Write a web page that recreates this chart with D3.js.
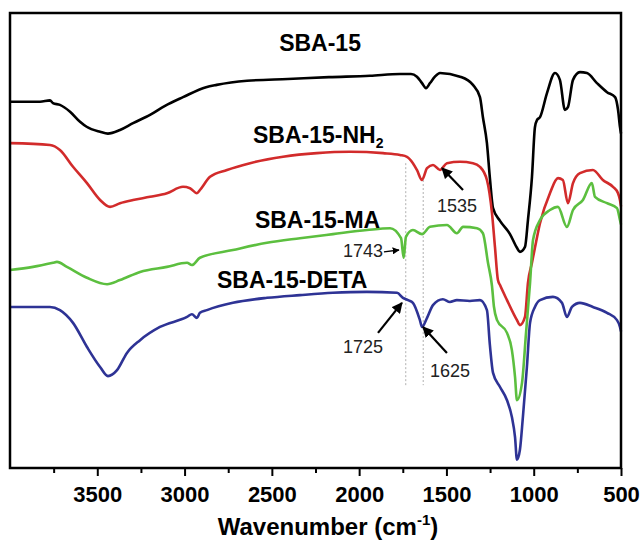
<!DOCTYPE html>
<html>
<head>
<meta charset="utf-8">
<script src="https://cdn.jsdelivr.net/npm/d3@7"></script>
<style>
  body { margin: 0; background: #fff; }
  svg { display: block; font-family: "Liberation Sans", Arial, sans-serif; }
</style>
</head>
<body>
<svg width="643" height="541"></svg>
<script>
// [wavenumber cm-1, transmittance a.u.]
const sba15 = [[4000,80.5],[3828,80.5],[3771,80.8],[3754,80.2],[3714,79.8],[3656,78.3],[3599,76.1],[3561,75.0],[3484,73.9],[3439,73.5],[3370,74.3],[3295,75.8],[3198,77.6],[3112,79.6],[3009,81.5],[2877,83.7],[2816,84.2],[2642,85.1],[2408,85.5],[2173,85.9],[1938,86.2],[1766,86.6],[1703,86.6],[1669,86.0],[1640,84.6],[1617,83.5],[1594,84.6],[1566,86.0],[1537,86.8],[1422,86.0],[1348,84.2],[1308,81.5],[1291,77.1],[1268,71.4],[1251,63.7],[1233,57.1],[1193,54.3],[1136,51.4],[1096,48.4],[1079,47.5],[1050,48.6],[1033,54.5],[1010,64.0],[993,74.9],[981,76.5],[964,77.1],[924,82.4],[878,86.8],[850,85.3],[821,78.7],[804,79.3],[775,85.3],[735,87.0],[695,86.8],[638,84.6],[580,82.6],[534,81.5],[517,78.7],[506,75.0],[500,73.5]];

const sba15NH2 = [[4000,71.4],[3771,71.0],[3714,69.9],[3639,66.2],[3559,62.6],[3484,58.9],[3427,57.4],[3370,58.2],[3295,58.9],[3198,59.6],[3101,60.4],[3009,61.8],[2969,61.5],[2929,60.4],[2912,61.1],[2854,64.0],[2757,65.5],[2625,67.0],[2436,68.4],[2242,69.2],[2052,69.5],[1863,69.2],[1766,68.8],[1726,68.4],[1692,67.0],[1669,65.5],[1640,63.3],[1611,65.9],[1577,66.6],[1537,65.5],[1497,67.0],[1422,67.3],[1348,67.0],[1308,66.2],[1268,63.3],[1239,56.0],[1222,48.6],[1205,41.3],[1193,40.2],[1153,36.9],[1096,32.5],[1079,31.4],[1050,33.2],[1033,40.7],[1010,45.1],[993,48.4],[964,53.8],[907,60.4],[861,63.7],[833,63.3],[804,58.2],[775,62.6],[735,64.8],[661,65.5],[604,63.3],[546,61.8],[517,60.4],[506,58.9],[500,57.5]];

const sba15MA = [[4000,43.5],[3868,44.2],[3754,45.1],[3731,45.3],[3674,44.2],[3559,41.8],[3444,40.4],[3370,41.3],[3255,43.1],[3101,44.2],[2986,45.1],[2958,44.6],[2912,46.2],[2723,47.9],[2528,49.5],[2339,50.5],[2150,51.4],[1955,52.3],[1823,52.7],[1760,50.5],[1745,46.2],[1732,50.8],[1692,52.3],[1640,51.4],[1594,53.0],[1497,53.4],[1440,51.6],[1405,53.0],[1325,52.7],[1291,51.6],[1262,45.1],[1239,40.0],[1228,35.5],[1210,32.5],[1153,29.7],[1125,25.9],[1107,20.0],[1096,14.9],[1067,18.7],[1044,29.7],[1021,40.7],[1004,50.1],[964,54.5],[907,56.7],[861,57.4],[810,53.0],[775,56.7],[718,58.9],[667,62.6],[649,59.6],[580,58.2],[523,57.1],[506,54.5],[500,53.5]];

const sba15DETA = [[4000,35.4],[3771,35.4],[3714,34.7],[3639,31.9],[3559,26.6],[3484,22.2],[3439,20.2],[3387,21.5],[3330,25.3],[3255,28.1],[3141,31.0],[2986,33.2],[2958,33.8],[2929,33.0],[2912,34.1],[2872,34.7],[2723,36.3],[2528,37.4],[2339,38.0],[2150,38.5],[1955,38.7],[1783,38.5],[1749,37.4],[1720,36.9],[1692,36.3],[1652,32.5],[1640,31.0],[1611,33.0],[1577,35.8],[1520,37.1],[1480,36.5],[1440,36.9],[1366,36.7],[1308,36.9],[1268,34.7],[1251,27.0],[1233,20.9],[1193,17.8],[1153,14.9],[1125,11.2],[1107,6.8],[1096,1.8],[1079,4.0],[1062,11.2],[1039,22.2],[1021,31.9],[993,35.4],[964,36.9],[890,37.6],[838,36.3],[810,33.2],[781,35.4],[735,36.3],[661,35.4],[580,34.1],[523,32.5],[506,31.0],[500,30.0]];

const majorTicks = [3500, 3000, 2500, 2000, 1500, 1000, 500];
const minorTicks = [3750, 3250, 2750, 2250, 1750, 1250, 750];

const svg = d3.select("svg");
const plotL = 10, plotR = 621, plotT = 13, plotB = 468;

const x = d3.scaleLinear().domain([4000, 500]).range([plotL, plotR]);
const y = d3.scaleLinear().domain([0, 100]).range([plotB, plotT]);

const line = d3.line()
    .x(d => x(d[0]))
    .y(d => y(d[1]))
    .curve(d3.curveMonotoneX);

// 参考虚线
const guides = [[1733, 67.0, 18.2], [1633, 63.3, 18.2]];
svg.selectAll(".guide")
    .data(guides)
    .enter()
    .append("line")
    .attr("x1", d => x(d[0])).attr("x2", d => x(d[0]))
    .attr("y1", d => y(d[1])).attr("y2", d => y(d[2]))
    .attr("stroke", "#b0b0b0")
    .attr("stroke-width", 1)
    .attr("stroke-dasharray", "2,2");

// spectra
const series = [
    { data: sba15, color: "#000000" },
    { data: sba15NH2, color: "#d22b2b" },
    { data: sba15MA, color: "#5cbf3f" },
    { data: sba15DETA, color: "#2e3395" }
];
series.forEach(s => {
    svg.append("path")
        .datum(s.data)
        .attr("fill", "none")
        .attr("stroke", s.color)
        .attr("stroke-width", 2.6)
        .attr("stroke-linejoin", "round")
        .attr("d", line);
});

// frame
svg.append("rect")
    .attr("x", plotL).attr("y", plotT)
    .attr("width", plotR - plotL).attr("height", plotB - plotT)
    .attr("fill", "none")
    .attr("stroke", "#000")
    .attr("stroke-width", 2.5);

// x axis
const axisMajor = svg.append("g")
    .attr("transform", `translate(0, ${plotB})`)
    .call(d3.axisBottom(x).tickValues(majorTicks).tickSize(8).tickPadding(10).tickFormat(d3.format("d")));
const axisMinor = svg.append("g")
    .attr("transform", `translate(0, ${plotB})`)
    .call(d3.axisBottom(x).tickValues(minorTicks).tickSize(5).tickFormat(""));
[axisMajor, axisMinor].forEach(g => {
    g.select(".domain").remove();
    g.selectAll(".tick line").attr("stroke", "#000").attr("stroke-width", 2);
});
axisMajor.selectAll(".tick text")
    .attr("fill", "#000")
    .style("font-size", "22px")
    .style("font-weight", "bold")
    .style("font-family", "'Liberation Sans', Arial, sans-serif");

// axis title
const title = svg.append("text")
    .attr("x", 328)
    .attr("y", 535)
    .attr("text-anchor", "middle")
    .style("font-size", "24px")
    .style("font-weight", "bold")
    .text("Wavenumber (cm");
title.append("tspan").attr("dy", -10).style("font-size", "15px").text("-1");
title.append("tspan").attr("dy", 10).text(")");

// series labels
function label(w, t, anchor, txt, sub) {
    const el = svg.append("text")
        .attr("x", x(w))
        .attr("y", y(t))
        .attr("text-anchor", anchor)
        .style("font-size", "23px")
        .style("font-weight", "bold")
        .text(txt);
    if (sub) {
        el.append("tspan").attr("dy", 5).style("font-size", "14px").text(sub);
    }
}
label(2224, 91.6, "middle", "SBA-15");
label(2608, 71.4, "start", "SBA-15-NH", "2");
label(2597, 52.7, "start", "SBA-15-MA");
label(2814, 39.6, "start", "SBA-15-DETA");

// arrows and peak annotations
svg.append("defs").append("marker")
    .attr("id", "head")
    .attr("viewBox", "0 0 10 10")
    .attr("refX", 9).attr("refY", 5)
    .attr("markerWidth", 5).attr("markerHeight", 5)
    .attr("orient", "auto")
    .append("path")
    .attr("d", "M0,0 L10,5 L0,10 z")
    .attr("fill", "#000");

const arrows = [
    [1405, 61.1, 1525, 65.9, 2.2],
    [1858, 47.5, 1772, 47.9, 1.4],
    [1892, 29.7, 1755, 36.3, 2.2],
    [1497, 25.3, 1634, 31.0, 2.2]
];
svg.selectAll(".arrow")
    .data(arrows)
    .enter()
    .append("line")
    .attr("x1", d => x(d[0])).attr("y1", d => y(d[1]))
    .attr("x2", d => x(d[2])).attr("y2", d => y(d[3]))
    .attr("stroke", "#000")
    .attr("stroke-width", d => d[4])
    .attr("marker-end", "url(#head)");

const peaks = [
    [1554, 56.3, "1535"],
    [2093, 46.4, "1743"],
    [2093, 25.3, "1725"],
    [1594, 20.0, "1625"]
];
svg.selectAll(".peak")
    .data(peaks)
    .enter()
    .append("text")
    .attr("x", d => x(d[0]))
    .attr("y", d => y(d[1]))
    .style("font-size", "18px")
    .attr("fill", "#222")
    .text(d => d[2]);
</script>
</body>
</html>
